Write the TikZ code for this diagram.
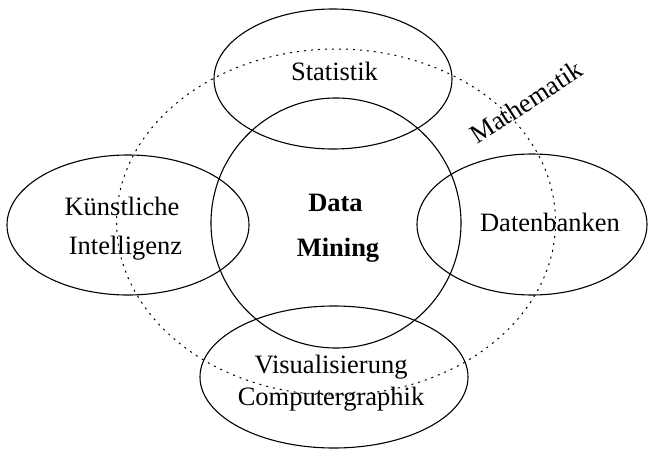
\documentclass[tikz,border=0pt]{standalone}
\usepackage{fontspec}
\setmainfont{Liberation Serif}
\begin{document}
\begin{tikzpicture}[x=1pt,y=-1pt,
  ring/.style={draw=black,line width=1.1pt},
  field/.style={draw=black,line width=1pt,dash pattern=on 2pt off 5pt},
  lbl/.style={inner sep=0pt,anchor=base,font=\fontsize{26.5}{30}\selectfont},
  core/.style={lbl,font=\fontsize{26.5}{30}\selectfont\bfseries}]
\useasboundingbox (0,0) rectangle (648,450);

% centres of the regions
\coordinate (dm) at (336,223);
\coordinate (ma) at (336,222);
\coordinate (st) at (333,79);
\coordinate (ki) at (128,225);
\coordinate (db) at (532,224.5);
\coordinate (vi) at (334,377);

% mathematics as the surrounding field
\draw[field] (ma) ellipse [x radius=219.5, y radius=173];

% neighbouring disciplines
\draw[ring] (st) ellipse [x radius=119, y radius=70];
\draw[ring] (ki) ellipse [x radius=121, y radius=70];
\draw[ring] (db) ellipse [x radius=115, y radius=70.5];
\draw[ring] (vi) ellipse [x radius=134, y radius=71];

% data mining in the middle
\draw[ring] (dm) circle [radius=125];

% labels
\node[lbl] (tst) at (334.5,80) {Statistik};
\node[core] (tda) at (335.5,211) {Data};
\node[core] (tmi) at (338,256) {Mining};
\node[lbl] (tk1) at (122,215) {Künstliche};
\node[lbl] (tk2) at (125.5,254) {Intelligenz};
\node[lbl] (tdb) at (550,231) {Datenbanken};
\node[lbl] (tv1) at (331,373) {Visualisierung};
\node[lbl] (tv2) at (331,405) {Computergraphik};
\node[inner sep=0pt,rotate=33,font=\fontsize{26.5}{30}\selectfont] (tma) at (526,102) {Mathematik};
\end{tikzpicture}
\end{document}
